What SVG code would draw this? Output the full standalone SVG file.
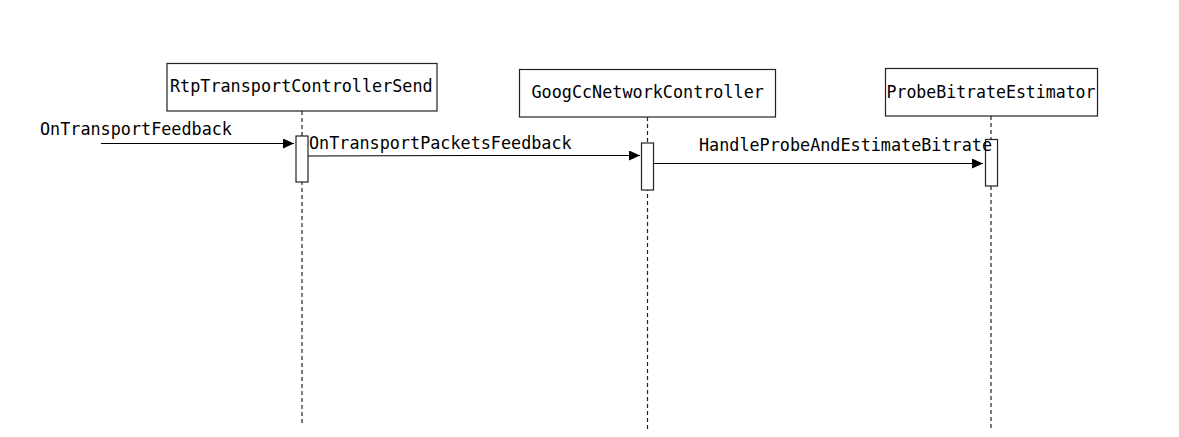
<svg xmlns="http://www.w3.org/2000/svg" width="1179" height="437" viewBox="0 0 1179 437">
<style>
.box{fill:#fff;stroke:#222;stroke-width:1.2}
.act{fill:#fff;stroke:#222;stroke-width:1.2}
.life{stroke:#222;stroke-width:1.2;stroke-dasharray:4 3;fill:none}
.msg{stroke:#000;stroke-width:1.2;fill:none}
text{font-family:"DejaVu Sans Mono","Liberation Mono",monospace;font-size:16.8px;fill:#000}
</style>
<defs>
<marker id="arr" markerWidth="12" markerHeight="10" refX="11" refY="5" orient="auto" markerUnits="userSpaceOnUse">
<path d="M0,0 L11,5 L0,10 Z" fill="#000"/>
</marker>
</defs>
<rect width="1179" height="437" fill="#fff"/>
<g id="lifelines">
<line class="life" x1="302" y1="111" x2="302" y2="426"/>
<line class="life" x1="647.5" y1="117" x2="647.5" y2="431"/>
<line class="life" x1="991" y1="116" x2="991" y2="431"/>
</g>
<g id="RtpTransportControllerSend">
<rect class="box" x="167" y="63.5" width="270" height="47.5"/>
<text x="170" y="92">RtpTransportControllerSend</text>
<rect class="act" x="296" y="136" width="12" height="46"/>
</g>
<g id="GoogCcNetworkController">
<rect class="box" x="519.5" y="69.5" width="256" height="47.5"/>
<text x="531.5" y="97.5">GoogCcNetworkController</text>
<rect class="act" x="641.5" y="143" width="12" height="47"/>
</g>
<g id="ProbeBitrateEstimator">
<rect class="box" x="885.5" y="68.5" width="212" height="47.5"/>
<text x="886.5" y="97.5" textLength="209" lengthAdjust="spacingAndGlyphs">ProbeBitrateEstimator</text>
<rect class="act" x="985.5" y="139.5" width="12" height="46.5"/>
</g>
<g id="connectors">
<line class="msg" x1="101" y1="143.5" x2="294" y2="143.5" marker-end="url(#arr)"/>
<text x="40" y="135">OnTransportFeedback</text>
<polyline class="msg" points="308,156 472,155.5 640,155.5" marker-end="url(#arr)"/>
<text x="309" y="149">OnTransportPacketsFeedback</text>
<line class="msg" x1="654" y1="163.5" x2="983" y2="163.5" marker-end="url(#arr)"/>
<text x="699" y="151">HandleProbeAndEstimateBitrate</text>
</g>
</svg>
